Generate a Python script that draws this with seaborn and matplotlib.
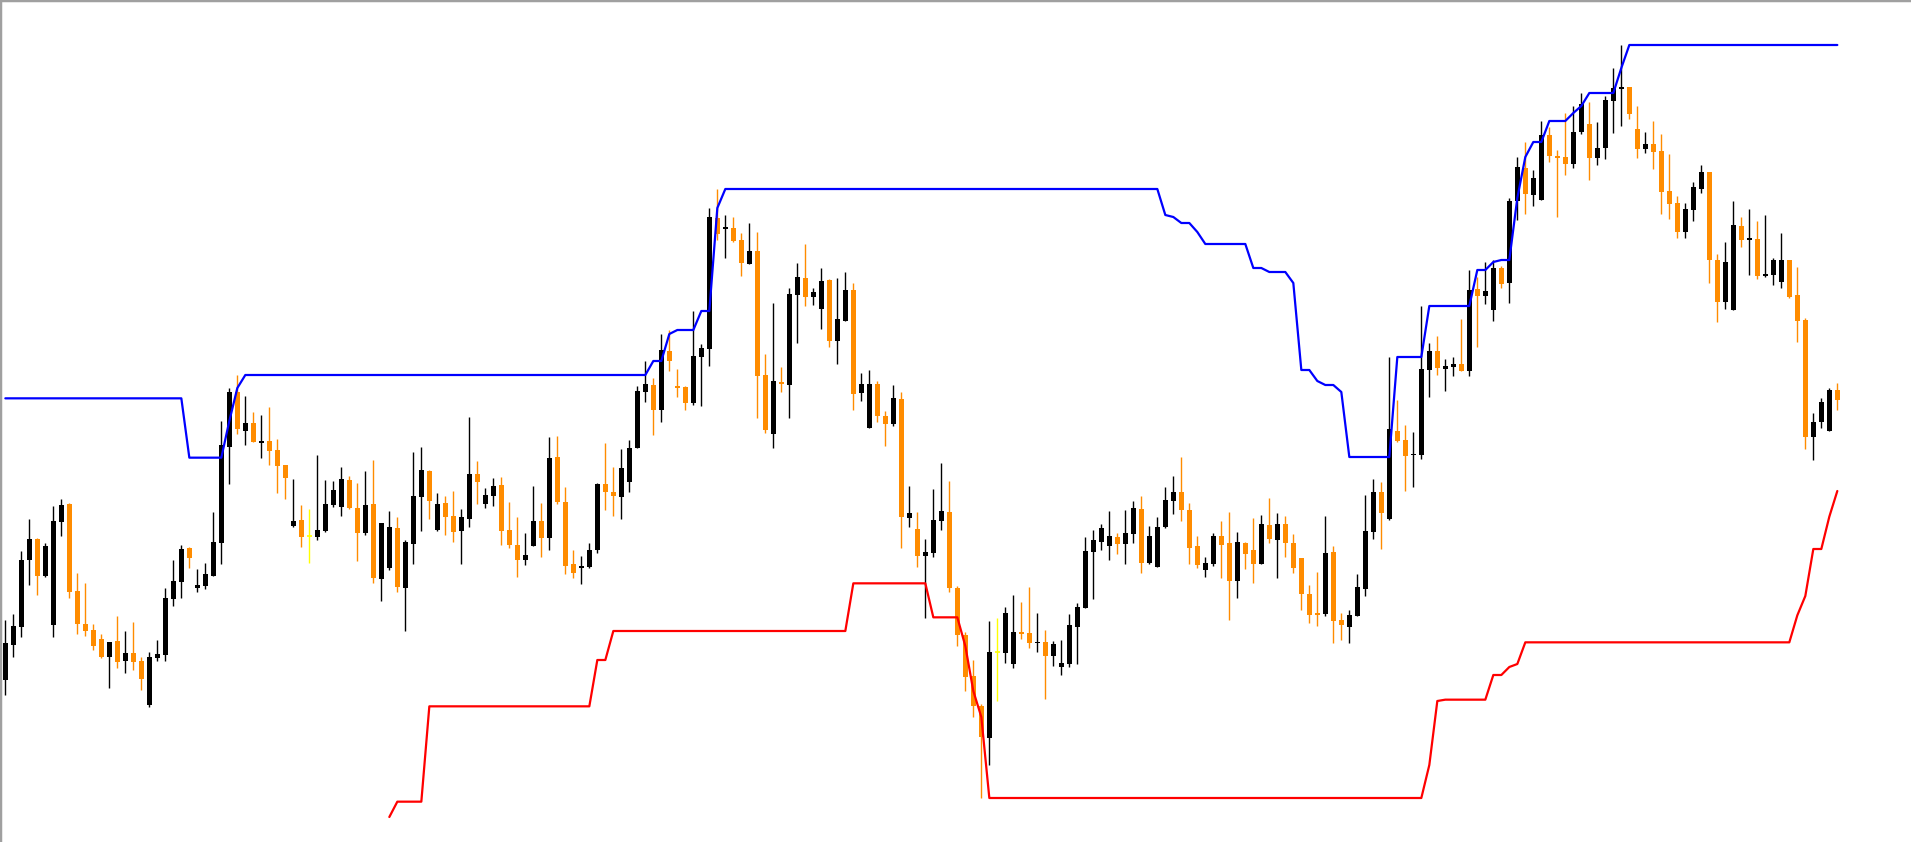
import numpy as np
import pandas as pd
import matplotlib
matplotlib.use("Agg")
import matplotlib.pyplot as plt
import seaborn as sns

sns.set_style("white")

# ── Data (price points) ──────────────────────────────────────────────────────

opens = [
    486, 592, 646, 846, 909, 798, 651, 960, 1014, 753,
    654, 636, 609, 555, 603, 543, 567, 543, 411, 552,
    561, 729, 780, 882, 762, 768, 798, 897, 1185, 1350,
    1233, 1257, 1198, 1203, 1176, 1131, 948, 966, 917, 915,
    933, 1011, 1005, 1086, 1002, 927, 1014, 789, 822, 942,
    762, 894, 1035, 1113, 936, 1017, 978, 933, 969, 1104,
    1014, 1038, 1071, 936, 891, 846, 888, 963, 912, 1155,
    1020, 834, 822, 825, 876, 1074, 1050, 1035, 1080, 1182,
    1350, 1371, 1296, 1473, 1368, 1365, 1317, 1455, 1479, 1872,
    1838, 1842, 1806, 1734, 1773, 1401, 1224, 1380, 1371, 1641,
    1692, 1635, 1599, 1686, 1503, 1563, 1656, 1347, 1242, 1374,
    1278, 1254, 1329, 972, 939, 858, 867, 963, 990, 762,
    621, 498, 408, 312, 569, 567, 534, 630, 627, 597,
    600, 558, 525, 534, 645, 702, 870, 900, 888, 915,
    894, 924, 999, 837, 825, 945, 1023, 1050, 996, 888,
    816, 834, 918, 897, 783, 897, 876, 834, 951, 906,
    954, 897, 852, 744, 687, 684, 870, 666, 645, 678,
    759, 930, 1050, 969, 1233, 1206, 1160, 1161, 1416, 1473,
    1420, 1426, 1434, 1413, 1659, 1638, 1596, 1722, 1677, 1923,
    2022, 1941, 1926, 2121, 2058, 2055, 2034, 2130, 2154, 2052,
    2082, 2223, 2259, 2265, 2139, 2079, 2094, 2073, 1953, 1917,
    1830, 1896, 1959, 2010, 1746, 1620, 1596, 1848, 1806, 1809,
    1698, 1701, 1680, 1746, 1641, 1566, 1215, 1260, 1233, 1356,
]

highs = [
    666, 684, 873, 969, 913, 898, 1008, 1029, 1017, 807,
    777, 654, 624, 600, 678, 633, 660, 555, 570, 606,
    762, 846, 891, 885, 819, 837, 990, 1263, 1362, 1401,
    1338, 1290, 1281, 1305, 1209, 1131, 1089, 1011, 999, 1161,
    1086, 1083, 1125, 1098, 1077, 1113, 1146, 957, 993, 975,
    906, 1170, 1185, 1116, 1047, 1038, 1053, 999, 1275, 1143,
    1062, 1092, 1095, 1020, 975, 927, 1068, 1017, 1215, 1218,
    1065, 876, 858, 897, 1077, 1197, 1125, 1179, 1206, 1368,
    1443, 1392, 1524, 1536, 1419, 1368, 1593, 1494, 1902, 1959,
    1881, 1875, 1827, 1857, 1830, 1464, 1617, 1425, 1662, 1737,
    1794, 1662, 1722, 1689, 1692, 1710, 1677, 1407, 1416, 1383,
    1293, 1371, 1350, 1068, 990, 909, 1059, 1137, 1083, 768,
    630, 546, 414, 663, 672, 705, 741, 720, 765, 687,
    636, 603, 606, 684, 717, 915, 936, 954, 993, 927,
    996, 1023, 1038, 948, 975, 1065, 1098, 1155, 1017, 918,
    855, 927, 963, 990, 930, 900, 972, 981, 1032, 987,
    978, 924, 852, 771, 810, 978, 888, 687, 696, 804,
    1041, 1089, 1080, 1455, 1326, 1251, 1230, 1608, 1497, 1518,
    1449, 1455, 1569, 1716, 1695, 1740, 1746, 1728, 1932, 2055,
    2100, 2016, 2163, 2145, 2076, 2187, 2208, 2247, 2220, 2160,
    2238, 2322, 2391, 2265, 2208, 2130, 2163, 2124, 2064, 1938,
    1917, 1980, 2031, 2010, 1764, 1800, 1923, 1875, 1899, 1863,
    1881, 1752, 1827, 1746, 1725, 1572, 1287, 1332, 1362, 1377,
]

lows = [
    441, 556, 616, 771, 741, 796, 616, 918, 732, 624,
    618, 576, 552, 462, 522, 507, 516, 456, 405, 543,
    543, 708, 732, 822, 750, 759, 798, 834, 1074, 1224,
    1191, 1200, 1152, 1131, 1047, 1029, 945, 885, 837, 906,
    930, 1005, 978, 999, 843, 921, 777, 723, 816, 750,
    633, 834, 933, 969, 933, 921, 900, 834, 945, 1014,
    1002, 1008, 891, 882, 795, 831, 888, 855, 876, 1014,
    804, 792, 774, 822, 867, 996, 978, 969, 1050, 1182,
    1320, 1221, 1260, 1413, 1335, 1296, 1311, 1308, 1428, 1806,
    1752, 1800, 1698, 1734, 1272, 1227, 1182, 1350, 1272, 1497,
    1608, 1611, 1539, 1485, 1434, 1563, 1296, 1323, 1242, 1260,
    1188, 1248, 882, 945, 825, 672, 855, 936, 750, 588,
    453, 375, 132, 231, 423, 537, 522, 609, 582, 570,
    429, 528, 501, 525, 534, 702, 729, 876, 846, 864,
    834, 897, 807, 834, 825, 942, 984, 963, 834, 822,
    795, 828, 792, 666, 732, 819, 777, 834, 897, 792,
    855, 807, 696, 657, 648, 678, 597, 606, 597, 678,
    738, 909, 879, 966, 1200, 1053, 1065, 1149, 1335, 1401,
    1353, 1398, 1413, 1398, 1485, 1614, 1563, 1662, 1617, 1866,
    1884, 1908, 1926, 2040, 1875, 2001, 2022, 2124, 1986, 2031,
    2049, 2127, 2148, 2169, 2052, 2067, 2019, 1884, 1869, 1812,
    1812, 1863, 1947, 1677, 1560, 1599, 1596, 1785, 1701, 1689,
    1695, 1671, 1662, 1632, 1500, 1179, 1146, 1242, 1233, 1296,
]

closes = [
    596, 648, 846, 909, 798, 888, 963, 1011, 750, 654,
    633, 588, 555, 600, 540, 567, 540, 489, 555, 564,
    732, 783, 879, 852, 771, 804, 900, 1191, 1350, 1239,
    1257, 1200, 1204, 1173, 1128, 1092, 963, 915, 917, 936,
    1014, 1056, 1089, 1002, 927, 1011, 792, 957, 945, 765,
    900, 1038, 1116, 1023, 1014, 975, 930, 975, 1104, 1080,
    1041, 1068, 933, 891, 846, 861, 963, 912, 1152, 1020,
    828, 807, 828, 876, 1074, 1050, 1038, 1122, 1182, 1353,
    1374, 1296, 1476, 1443, 1362, 1317, 1458, 1482, 1875, 1824,
    1844, 1803, 1737, 1773, 1398, 1236, 1383, 1374, 1644, 1695,
    1635, 1650, 1683, 1503, 1569, 1656, 1344, 1374, 1374, 1278,
    1254, 1332, 975, 987, 858, 870, 966, 993, 762, 621,
    495, 408, 315, 570, 569, 687, 630, 624, 597, 600,
    558, 594, 537, 651, 705, 873, 906, 942, 918, 894,
    927, 1002, 837, 918, 945, 1026, 1050, 996, 882, 831,
    837, 918, 891, 783, 900, 864, 834, 954, 909, 954,
    897, 822, 744, 681, 681, 867, 663, 651, 681, 765,
    933, 1050, 987, 1239, 1203, 1158, 1164, 1419, 1473, 1422,
    1428, 1434, 1413, 1656, 1638, 1653, 1722, 1674, 1923, 2025,
    1944, 1992, 2121, 2058, 2052, 2034, 2130, 2214, 2052, 2082,
    2226, 2262, 2265, 2184, 2079, 2094, 2070, 1950, 1914, 1830,
    1899, 1965, 2010, 1746, 1620, 1740, 1851, 1806, 1812, 1698,
    1704, 1746, 1746, 1635, 1563, 1215, 1260, 1320, 1356, 1326,
]

# upper channel (blue)
upper = [
    1331, 1331, 1331, 1331, 1331, 1331, 1331, 1331, 1331, 1331,
    1331, 1331, 1331, 1331, 1331, 1331, 1331, 1331, 1331, 1331,
    1331, 1331, 1331, 1153, 1153, 1153, 1153, 1153, 1263, 1362,
    1401, 1401, 1401, 1401, 1401, 1401, 1401, 1401, 1401, 1401,
    1401, 1401, 1401, 1401, 1401, 1401, 1401, 1401, 1401, 1401,
    1401, 1401, 1401, 1401, 1401, 1401, 1401, 1401, 1401, 1401,
    1401, 1401, 1401, 1401, 1401, 1401, 1401, 1401, 1401, 1401,
    1401, 1401, 1401, 1401, 1401, 1401, 1401, 1401, 1401, 1401,
    1401, 1443, 1443, 1524, 1536, 1536, 1536, 1593, 1593, 1902,
    1959, 1959, 1959, 1959, 1959, 1959, 1959, 1959, 1959, 1959,
    1959, 1959, 1959, 1959, 1959, 1959, 1959, 1959, 1959, 1959,
    1959, 1959, 1959, 1959, 1959, 1959, 1959, 1959, 1959, 1959,
    1959, 1959, 1959, 1959, 1959, 1959, 1959, 1959, 1959, 1959,
    1959, 1959, 1959, 1959, 1959, 1959, 1959, 1959, 1959, 1959,
    1959, 1959, 1959, 1959, 1959, 1881, 1875, 1857, 1857, 1830,
    1794, 1794, 1794, 1794, 1794, 1794, 1722, 1722, 1710, 1710,
    1710, 1677, 1416, 1416, 1383, 1371, 1371, 1350, 1155, 1155,
    1155, 1155, 1155, 1155, 1455, 1455, 1455, 1455, 1608, 1608,
    1608, 1608, 1608, 1608, 1716, 1716, 1740, 1746, 1746, 1932,
    2055, 2100, 2100, 2163, 2163, 2163, 2187, 2208, 2247, 2247,
    2247, 2247, 2322, 2391, 2391, 2391, 2391, 2391, 2391, 2391,
    2391, 2391, 2391, 2391, 2391, 2391, 2391, 2391, 2391, 2391,
    2391, 2391, 2391, 2391, 2391, 2391, 2391, 2391, 2391, 2391,
]

# lower channel (red), starts later in the history
lower = [
    None, None, None, None, None, None, None, None, None, None,
    None, None, None, None, None, None, None, None, None, None,
    None, None, None, None, None, None, None, None, None, None,
    None, None, None, None, None, None, None, None, None, None,
    None, None, None, None, None, None, None, None, 75, 121,
    121, 121, 121, 407, 407, 407, 407, 407, 407, 407,
    407, 407, 407, 407, 407, 407, 407, 407, 407, 407,
    407, 407, 407, 407, 546, 546, 633, 633, 633, 633,
    633, 633, 633, 633, 633, 633, 633, 633, 633, 633,
    633, 633, 633, 633, 633, 633, 633, 633, 633, 633,
    633, 633, 633, 633, 633, 633, 776, 776, 776, 776,
    776, 776, 776, 776, 776, 776, 674, 674, 674, 674,
    588, 453, 375, 132, 132, 132, 132, 132, 132, 132,
    132, 132, 132, 132, 132, 132, 132, 132, 132, 132,
    132, 132, 132, 132, 132, 132, 132, 132, 132, 132,
    132, 132, 132, 132, 132, 132, 132, 132, 132, 132,
    132, 132, 132, 132, 132, 132, 132, 132, 132, 132,
    132, 132, 132, 132, 132, 132, 132, 132, 231, 423,
    427, 427, 427, 427, 427, 427, 501, 501, 525, 534,
    599, 599, 599, 599, 599, 599, 599, 599, 599, 599,
    599, 599, 599, 599, 599, 599, 599, 599, 599, 599,
    599, 599, 599, 599, 599, 599, 599, 599, 599, 599,
    599, 599, 599, 599, 680, 738, 879, 879, 976, 1053,
]

UP_COLOUR = "#000000"
DOWN_COLOUR = "#ff8c00"
DOJI_COLOUR = "#ffff00"

# ── Frame ─────────────────────────────────────────────────────────────────────

df = pd.DataFrame({"open": opens, "high": highs, "low": lows, "close": closes})
df["bar"] = np.arange(len(df))
df["upper"] = upper
df["lower"] = pd.to_numeric(pd.Series(lower), errors="coerce")

colours = np.where(df["close"] > df["open"], UP_COLOUR,
                   np.where(df["close"] < df["open"], DOWN_COLOUR, DOJI_COLOUR))

fig = plt.figure(figsize=(19.11, 8.42), dpi=100)
ax = fig.add_axes([0, 0, 1, 1])

# wicks
ax.vlines(df["bar"], df["low"], df["high"], colors=colours, linewidth=1.0, zorder=2)

# bodies
body_w = 0.625
body_lo = np.minimum(df["open"], df["close"])
body_h = np.abs(df["close"] - df["open"])
ax.bar(df["bar"], body_h, bottom=body_lo, width=body_w,
       color=colours, linewidth=0, zorder=3)

# dojis: flat tick
doji = df[df["close"] == df["open"]]
ax.hlines(doji["open"], doji["bar"] - body_w / 2, doji["bar"] + body_w / 2,
          colors=DOJI_COLOUR, linewidth=1.2, zorder=3)

# channel lines
sns.lineplot(data=df, x="bar", y="upper", color="#0000ff", linewidth=1.6,
             estimator=None, errorbar=None, ax=ax, zorder=4)
sns.lineplot(data=df.dropna(subset=["lower"]), x="bar", y="lower",
             color="#ff0000", linewidth=1.6, estimator=None, errorbar=None,
             ax=ax, zorder=4)

ax.set_xlim(-0.667, 238.21)
ax.set_ylim(0, 2526)
ax.set_xticks([])
ax.set_yticks([])
ax.set_xlabel("")
ax.set_ylabel("")
ax.set_facecolor("white")

for side in ["right", "bottom"]:
    ax.spines[side].set_visible(False)
for side in ["left", "top"]:
    ax.spines[side].set_color("#a0a0a0")
    ax.spines[side].set_linewidth(2.5)

fig.savefig("out.png", dpi=100, facecolor="white")
